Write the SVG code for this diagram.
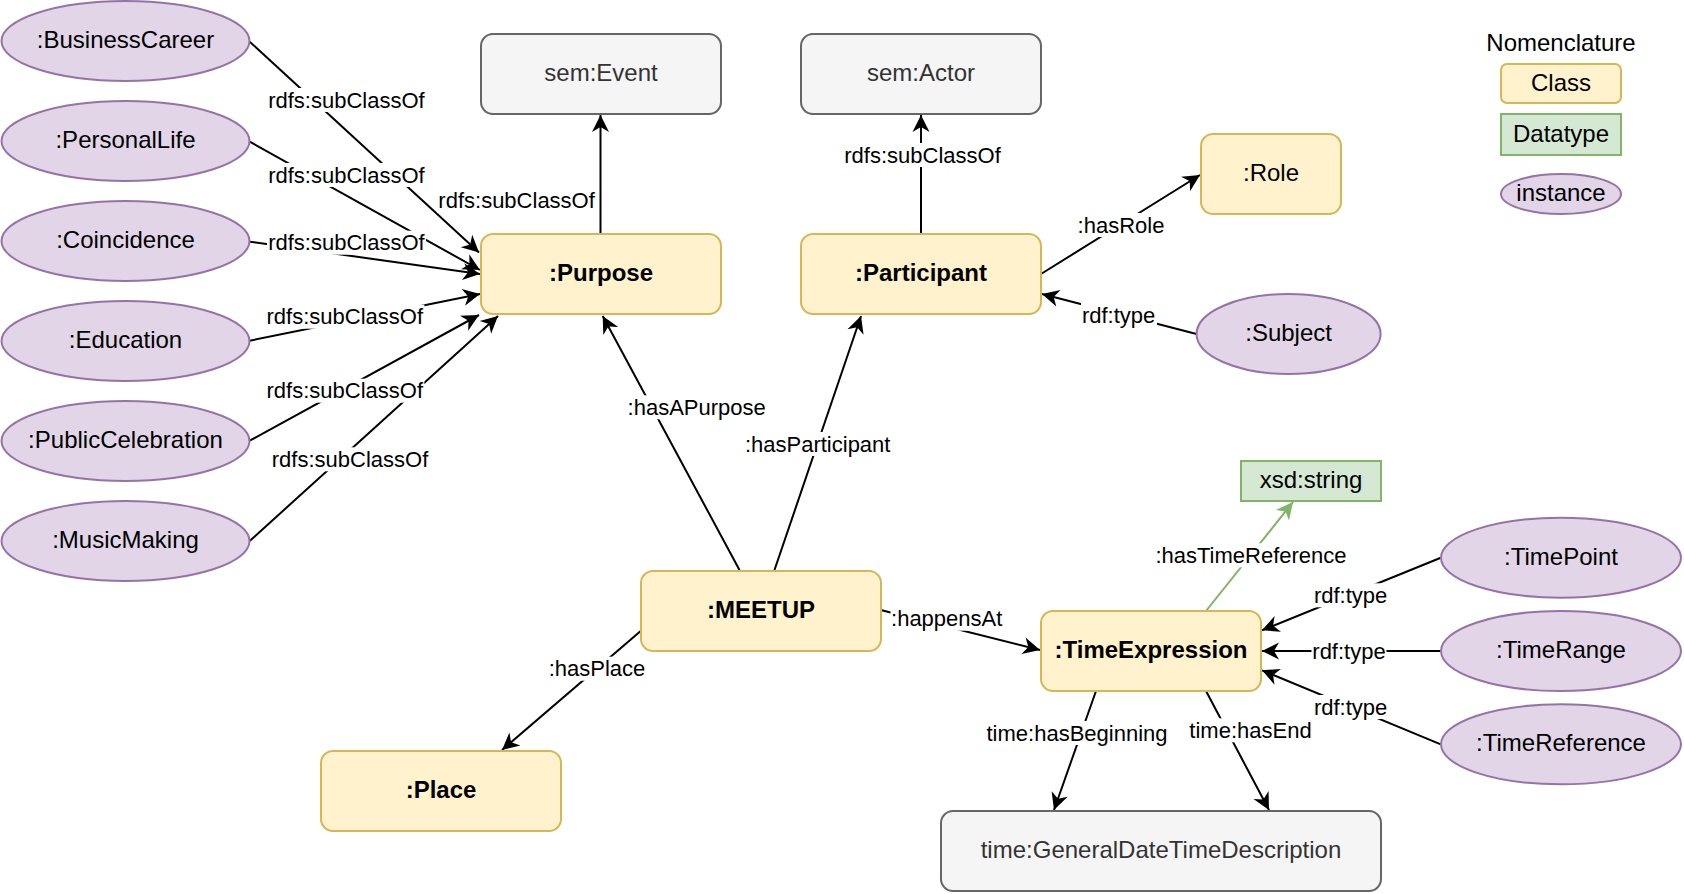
<svg xmlns="http://www.w3.org/2000/svg" width="1684" height="894" viewBox="0 0 1684 894">
<defs>
<style>
text{font-family:"Liberation Sans",Arial,Helvetica,sans-serif;}
.cls{fill:#fff2cc;stroke:#d6b656;stroke-width:2;}
.gry{fill:#f5f5f5;stroke:#666666;stroke-width:2;}
.ins{fill:#e1d5e7;stroke:#9673a6;stroke-width:2;}
.dat{fill:#d5e8d4;stroke:#82b366;stroke-width:2;}
.nt{font-size:24px;fill:#000;text-anchor:middle;}
.bt{font-size:24px;font-weight:bold;fill:#000;text-anchor:middle;}
.gt{font-size:24px;fill:#333333;text-anchor:middle;}
.edge{stroke:#000;stroke-width:2;fill:none;marker-end:url(#arr);}
.gedge{stroke:#82b366;stroke-width:2;fill:none;marker-end:url(#garr);}
.lb{fill:#fff;stroke:none;}
.lt{font-size:22px;fill:#000;text-anchor:middle;}
</style>
<marker id="arr" markerUnits="userSpaceOnUse" markerWidth="20" markerHeight="20" viewBox="-18 -10 20 20" refX="0" refY="0" orient="auto">
<path d="M0,0 L-17,-8.5 L-12,0 L-17,8.5 Z" fill="#000"/>
</marker>
<marker id="garr" markerUnits="userSpaceOnUse" markerWidth="20" markerHeight="20" viewBox="-18 -10 20 20" refX="0" refY="0" orient="auto">
<path d="M0,0 L-17,-8.5 L-12,0 L-17,8.5 Z" fill="#82b366"/>
</marker>
</defs>
<rect x="0" y="0" width="1684" height="894" fill="#ffffff"/>

<g id="connectors">
<line class="edge" x1="249.7" y1="41.7" x2="479" y2="252.5"/>
<line class="edge" x1="249.7" y1="141.7" x2="480" y2="270"/>
<line class="edge" x1="249.7" y1="241.7" x2="480" y2="274"/>
<line class="edge" x1="249.7" y1="340.7" x2="480" y2="294"/>
<line class="edge" x1="249.7" y1="440.7" x2="479" y2="315"/>
<line class="edge" x1="249.7" y1="541" x2="498" y2="316"/>
<line class="edge" x1="600.5" y1="234" x2="600.5" y2="115"/>
<line class="edge" x1="921" y1="234" x2="921" y2="115"/>
<line class="edge" x1="739.5" y1="570" x2="602.7" y2="316"/>
<line class="edge" x1="774.5" y1="570" x2="861" y2="316"/>
<line class="edge" x1="1041" y1="274" x2="1200" y2="175"/>
<line class="edge" x1="1196.5" y1="334" x2="1042" y2="294"/>
<line class="edge" x1="640.7" y1="631" x2="502" y2="750"/>
<line class="edge" x1="880.7" y1="610" x2="1040" y2="650"/>
<line class="gedge" x1="1206" y1="611" x2="1293" y2="502"/>
<line class="edge" x1="1440.8" y1="557.7" x2="1262" y2="630.3"/>
<line class="edge" x1="1440.8" y1="651" x2="1262" y2="651"/>
<line class="edge" x1="1440.8" y1="744.3" x2="1262" y2="670.3"/>
<line class="edge" x1="1096" y1="691" x2="1054" y2="810"/>
<line class="edge" x1="1206" y1="691" x2="1269" y2="810"/>

<rect class="lb" x="267" y="88" width="159" height="24"/><text class="lt" x="346.4" y="107.5">rdfs:subClassOf</text>
<rect class="lb" x="267" y="163" width="159" height="24"/><text class="lt" x="346.4" y="182.5">rdfs:subClassOf</text>
<rect class="lb" x="267" y="230.7" width="159" height="24"/><text class="lt" x="346.4" y="250.2">rdfs:subClassOf</text>
<rect class="lb" x="265.4" y="304.7" width="159" height="24"/><text class="lt" x="344.8" y="324.2">rdfs:subClassOf</text>
<rect class="lb" x="265.4" y="378.7" width="159" height="24"/><text class="lt" x="344.8" y="398.2">rdfs:subClassOf</text>
<rect class="lb" x="270.6" y="447.3" width="159" height="24"/><text class="lt" x="350" y="466.8">rdfs:subClassOf</text>
<rect class="lb" x="437.2" y="188.7" width="159" height="24"/><text class="lt" x="516.6" y="208.2">rdfs:subClassOf</text>
<rect class="lb" x="843" y="143" width="159" height="24"/><text class="lt" x="922.5" y="162.5">rdfs:subClassOf</text>
<rect class="lb" x="626.6" y="395.3" width="140" height="24"/><text class="lt" x="696.7" y="414.8">:hasAPurpose</text>
<rect class="lb" x="744" y="432" width="148" height="24"/><text class="lt" x="817.7" y="451.5">:hasParticipant</text>
<rect class="lb" x="1077" y="213" width="89" height="24"/><text class="lt" x="1121" y="232.5">:hasRole</text>
<rect class="lb" x="1081" y="303" width="76" height="24"/><text class="lt" x="1118.6" y="322.5">rdf:type</text>
<rect class="lb" x="548" y="656.7" width="99" height="24"/><text class="lt" x="597" y="676.2">:hasPlace</text>
<rect class="lb" x="890.5" y="606.7" width="113" height="24"/><text class="lt" x="946.7" y="626.2">:happensAt</text>
<rect class="lb" x="1149" y="543.3" width="205" height="24"/><text class="lt" x="1251" y="562.8">:hasTimeReference</text>
<rect class="lb" x="1313.5" y="583.3" width="75" height="24"/><text class="lt" x="1350.6" y="602.8">rdf:type</text>
<rect class="lb" x="1311.5" y="639" width="75" height="24"/><text class="lt" x="1349" y="658.5">rdf:type</text>
<rect class="lb" x="1313.5" y="695" width="75" height="24"/><text class="lt" x="1350.6" y="714.5">rdf:type</text>
<rect class="lb" x="986" y="721" width="183" height="24"/><text class="lt" x="1077" y="740.5">time:hasBeginning</text>
<rect class="lb" x="1189" y="718.3" width="124" height="24"/><text class="lt" x="1250.5" y="737.8">time:hasEnd</text>
</g>

<g id="n-businesscareer"><ellipse class="ins" cx="125.5" cy="41" rx="124" ry="40"/><text class="nt" x="125.5" y="48">:BusinessCareer</text></g>
<g id="n-personallife"><ellipse class="ins" cx="125.5" cy="141" rx="124" ry="40"/><text class="nt" x="125.5" y="148">:PersonalLife</text></g>
<g id="n-coincidence"><ellipse class="ins" cx="125.5" cy="241" rx="124" ry="40"/><text class="nt" x="125.5" y="248">:Coincidence</text></g>
<g id="n-education"><ellipse class="ins" cx="125.5" cy="341" rx="124" ry="40"/><text class="nt" x="125.5" y="348">:Education</text></g>
<g id="n-publiccelebration"><ellipse class="ins" cx="125.5" cy="441" rx="124" ry="40"/><text class="nt" x="125.5" y="448">:PublicCelebration</text></g>
<g id="n-musicmaking"><ellipse class="ins" cx="125.5" cy="541" rx="124" ry="40"/><text class="nt" x="125.5" y="548">:MusicMaking</text></g>

<g id="n-semevent"><rect class="gry" x="481" y="34" width="240" height="80" rx="12"/><text class="gt" x="601" y="81">sem:Event</text></g>
<g id="n-semactor"><rect class="gry" x="801" y="34" width="240" height="80" rx="12"/><text class="gt" x="921" y="81">sem:Actor</text></g>
<g id="n-purpose"><rect class="cls" x="481" y="234" width="240" height="80" rx="12"/><text class="bt" x="601" y="281">:Purpose</text></g>
<g id="n-participant"><rect class="cls" x="801" y="234" width="240" height="80" rx="12"/><text class="bt" x="921" y="281">:Participant</text></g>
<g id="n-role"><rect class="cls" x="1201" y="134" width="140" height="80" rx="12"/><text class="nt" x="1271" y="181">:Role</text></g>
<g id="n-subject"><ellipse class="ins" cx="1288.6" cy="334" rx="92" ry="40"/><text class="nt" x="1288.6" y="341">:Subject</text></g>
<g id="n-meetup"><rect class="cls" x="641" y="571" width="240" height="80" rx="12"/><text class="bt" x="761" y="618">:MEETUP</text></g>
<g id="n-place"><rect class="cls" x="321" y="751" width="240" height="80" rx="12"/><text class="bt" x="441" y="798">:Place</text></g>
<g id="n-xsdstring"><rect class="dat" x="1241" y="461" width="140" height="40"/><text class="nt" x="1311" y="488">xsd:string</text></g>
<g id="n-timeexpression"><rect class="cls" x="1041" y="611" width="220" height="80" rx="12"/><text class="bt" x="1151" y="658">:TimeExpression</text></g>
<g id="n-timepoint"><ellipse class="ins" cx="1561" cy="557.7" rx="120" ry="40"/><text class="nt" x="1561" y="564.7">:TimePoint</text></g>
<g id="n-timerange"><ellipse class="ins" cx="1561" cy="651" rx="120" ry="40"/><text class="nt" x="1561" y="658">:TimeRange</text></g>
<g id="n-timereference"><ellipse class="ins" cx="1561" cy="744.3" rx="120" ry="40"/><text class="nt" x="1561" y="751.3">:TimeReference</text></g>
<g id="n-gdtd"><rect class="gry" x="941" y="811" width="440" height="80" rx="12"/><text class="gt" x="1161" y="858">time:GeneralDateTimeDescription</text></g>

<g id="legend">
<text class="nt" x="1561" y="51">Nomenclature</text>
<g id="legend-class"><rect class="cls" x="1501" y="64" width="120" height="39" rx="6"/><text class="nt" x="1561" y="90.5">Class</text></g>
<g id="legend-datatype"><rect class="dat" x="1501" y="114" width="120" height="41"/><text class="nt" x="1561" y="141.5">Datatype</text></g>
<g id="legend-instance"><ellipse class="ins" cx="1561" cy="194" rx="60" ry="20"/><text class="nt" x="1561" y="201">instance</text></g>
</g>
</svg>
